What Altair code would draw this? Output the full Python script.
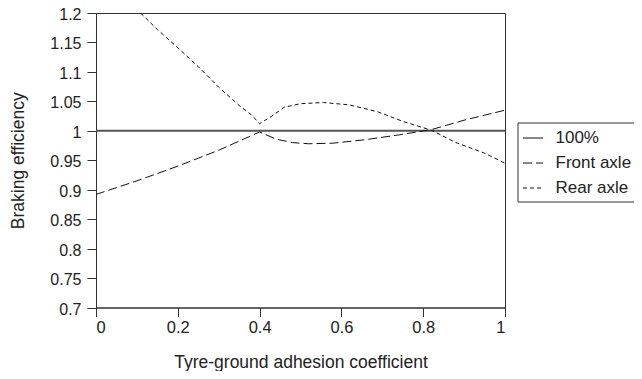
import altair as alt
import pandas as pd

# Data
x_ref = [0.0, 1.0]
ref = [1.0, 1.0]

x_front = [0.0, 0.1, 0.2, 0.3, 0.4, 0.44, 0.48, 0.52, 0.58, 0.66, 0.74, 0.82, 0.9, 1.0]
front = [0.892, 0.915, 0.940, 0.967, 0.998, 0.986, 0.980, 0.978, 0.979, 0.985, 0.993, 1.002, 1.018, 1.035]

x_rear = [0.109, 0.15, 0.2, 0.25, 0.3, 0.35, 0.38, 0.4, 0.43, 0.46, 0.5, 0.556,
          0.62, 0.69, 0.75, 0.82, 0.88, 0.95, 1.0]
rear = [1.2, 1.172, 1.141, 1.109, 1.074, 1.043, 1.027, 1.012, 1.025, 1.040, 1.046, 1.048,
        1.044, 1.032, 1.016, 1.001, 0.980, 0.962, 0.945]

series_names = ["100%", "Front axle", "Rear axle"]
y_ticks = [0.7, 0.75, 0.8, 0.85, 0.9, 0.95, 1.0, 1.05, 1.1, 1.15, 1.2]
x_ticks = [0, 0.2, 0.4, 0.6, 0.8, 1.0]

df_ref = pd.DataFrame({"x": x_ref, "y": ref, "s": series_names[0], "o": range(len(x_ref))})
df_curves = pd.concat([
    pd.DataFrame({"x": x_front, "y": front, "s": series_names[1], "o": range(len(x_front))}),
    pd.DataFrame({"x": x_rear, "y": rear, "s": series_names[2], "o": range(len(x_rear))}),
])

FONT = "Liberation Sans"

x_enc = alt.X("x:Q", scale=alt.Scale(domain=[0, 1], nice=False),
              axis=alt.Axis(values=x_ticks, format="~g", title="Tyre-ground adhesion coefficient",
                            titleY=54.5, titleBaseline="middle", labelPadding=3))
y_enc = alt.Y("y:Q", scale=alt.Scale(domain=[0.7, 1.2], nice=False, zero=False),
              axis=alt.Axis(values=y_ticks, format="~g", title="Braking efficiency",
                            titleX=-78, titleBaseline="middle", labelPadding=6, labelOffset=1.5,
                            labelFontSize=16))
dash_enc = alt.StrokeDash(
    "s:N",
    scale=alt.Scale(domain=series_names, range=[[1, 0], [9, 4], [4, 3]]),
    legend=alt.Legend(title=None, orient="none", legendX=421.5, legendY=109.5,
                      strokeColor="#333", padding=5, symbolType="stroke",
                      symbolSize=400, symbolStrokeColor="#111",
                      symbolStrokeWidth=1, labelFontSize=17, labelFont=FONT,
                      labelColor="#222", rowPadding=6, labelOffset=12),
)

ref_line = alt.Chart(df_ref).mark_line(color="#555555", strokeWidth=2, clip=True).encode(
    x=x_enc, y=y_enc, strokeDash=dash_enc, order="o:Q"
)
curves = alt.Chart(df_curves).mark_line(color="#111111", strokeWidth=1, clip=True).encode(
    x=x_enc, y=y_enc, strokeDash=dash_enc, order="o:Q"
)

chart = alt.layer(ref_line, curves).properties(
    width=409, height=294.5,
    autosize=alt.AutoSizeParams(type="none"),
    padding={"left": 88, "top": 5, "right": 129, "bottom": 63},
).configure_view(
    stroke="#333", strokeWidth=1
).configure_axis(
    grid=False, domainColor="#333", tickColor="#333", tickSize=9,
    labelFont=FONT, labelFontSize=16.5, labelColor="#222",
    titleFont=FONT, titleFontSize=17.5, titleFontWeight="normal", titleColor="#222",
)

chart.save("out.html", embed_options={"renderer": "svg", "actions": False})
